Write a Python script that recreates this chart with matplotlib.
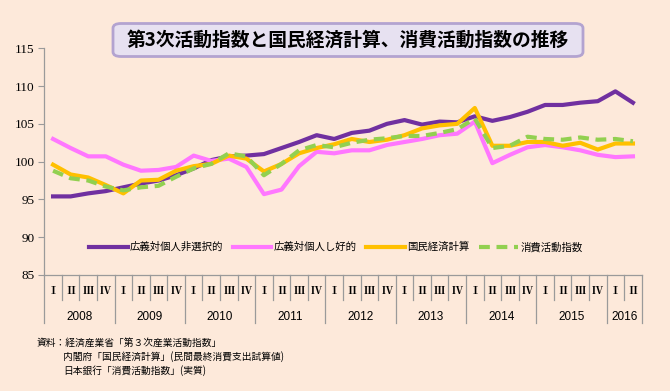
import matplotlib.pyplot as plt
import matplotlib.transforms as mtransforms
from matplotlib.patches import FancyBboxPatch

plt.rcParams['font.family'] = ['Noto Sans CJK JP', 'DejaVu Sans']

years = ['2008', '2009', '2010', '2011', '2012', '2013', '2014', '2015', '2016']
quarters = ['Ⅰ', 'Ⅱ', 'Ⅲ', 'Ⅳ']
n_quarters = 34  # 2008 I - 2016 II

non_selective = [95.4, 95.4, 95.8, 96.1, 96.6, 97.1, 97.5, 98.2, 99.1, 100.2,
                 100.7, 100.8, 101.0, 101.8, 102.6, 103.5, 103.0, 103.8, 104.1, 105.0,
                 105.5, 104.9, 105.3, 105.2, 106.0, 105.4, 105.9, 106.6, 107.5, 107.5,
                 107.8, 108.0, 109.3, 107.8]
preference = [103.0, 101.8, 100.7, 100.7, 99.6, 98.8, 98.9, 99.3, 100.8, 100.1,
              100.4, 99.3, 95.7, 96.3, 99.4, 101.3, 101.1, 101.5, 101.5, 102.2,
              102.6, 103.0, 103.5, 103.7, 105.3, 99.8, 100.9, 101.9, 102.2, 101.9,
              101.5, 100.9, 100.6, 100.7]
sna = [99.6, 98.3, 97.9, 96.9, 95.8, 97.5, 97.6, 98.8, 99.4, 99.7,
       100.8, 100.4, 98.7, 99.7, 101.1, 101.8, 102.3, 103.0, 102.6, 102.9,
       103.5, 104.4, 104.8, 105.0, 107.1, 102.1, 102.1, 102.6, 102.6, 102.1,
       102.5, 101.6, 102.4, 102.4]
consumption = [98.8, 97.8, 97.5, 96.7, 96.2, 96.6, 96.8, 98.0, 99.1, 99.7,
               101.1, 100.7, 98.2, 99.7, 101.5, 102.2, 101.9, 102.5, 102.9, 103.1,
               103.4, 103.4, 103.8, 104.3, 105.7, 101.8, 102.1, 103.3, 103.0, 102.9,
               103.2, 102.9, 103.0, 102.7]

bg = '#fde9da'
grey = '#9a9a9a'

fig = plt.figure(figsize=(6.7, 3.91), dpi=100, facecolor=bg)
ax = fig.add_axes([0.0661, 0.2967, 0.8917, 0.5798], facecolor=bg)

x = list(range(n_quarters))
ax.plot(x, non_selective, color='#7030a0', lw=3.0, label='広義対個人非選択的')
ax.plot(x, preference, color='#ff77ff', lw=3.0, label='広義対個人し好的')
ax.plot(x, sna, color='#ffc000', lw=3.0, label='国民経済計算')
ax.plot(x, consumption, color='#92d050', lw=3.0, dashes=(2.6, 1.6), label='消費活動指数')

ax.set_xlim(-0.5, n_quarters - 0.5)
ax.set_ylim(85, 115)
ax.set_yticks(range(85, 116, 5))
ax.tick_params(axis='y', direction='out', length=4, color=grey, pad=3, labelsize=9.5)
for lab in ax.get_yticklabels():
    lab.set_family('Liberation Serif')
ax.set_xticks([])
for side in ['top', 'right']:
    ax.spines[side].set_visible(False)
for side in ['left', 'bottom']:
    ax.spines[side].set_color(grey)
    ax.spines[side].set_linewidth(0.9)

# category axis below the plot
trans = mtransforms.blended_transform_factory(ax.transData, ax.transAxes)
for i in range(n_quarters):
    ax.text(i, -0.069, quarters[i % 4], transform=trans, ha='center', va='center',
            fontsize=8, fontweight='bold', family=['Noto Serif CJK JP', 'Noto Sans CJK JP'])
for b in range(n_quarters + 1):
    xb = b - 0.5
    low = -0.212 if b % 4 == 0 or b == n_quarters else -0.11
    ax.plot([xb, xb], [0, low], transform=trans, color=grey, lw=0.9, clip_on=False)
for k, yr in enumerate(years):
    start = k * 4
    end = min(start + 4, n_quarters)
    ax.text((start + end - 1) / 2, -0.184, yr, transform=trans, ha='center', va='center',
            fontsize=8.5, family=['Liberation Sans', 'DejaVu Sans'])

ax.legend(loc='center', bbox_to_anchor=(0.488, 0.1235), ncol=4, frameon=False,
          fontsize=7.5, handlelength=3.7, handletextpad=0.25, columnspacing=0.9)

# title box
box = FancyBboxPatch((113 / 670, 1 - 56.5 / 391), (583 - 113) / 670, (56.5 - 23.5) / 391,
                     boxstyle='round,pad=0,rounding_size=0.012', transform=fig.transFigure,
                     facecolor='#e7e1f1', edgecolor='#b3a3d0', lw=2.0)
fig.patches.append(box)
fig.text(348 / 670, 1 - 40 / 391, '第3次活動指数と国民経済計算、消費活動指数の推移',
         ha='center', va='center', fontsize=13.5, fontweight='bold')

notes = ['資料：経済産業省「第３次産業活動指数」',
         '内閣府「国民経済計算」(民間最終消費支出試算値)',
         '日本銀行「消費活動指数」(実質)']
fig.text(37 / 670, 1 - 343 / 391, notes[0], ha='left', va='center', fontsize=7)
fig.text(63 / 670, 1 - 357 / 391, notes[1], ha='left', va='center', fontsize=7)
fig.text(63 / 670, 1 - 371 / 391, notes[2], ha='left', va='center', fontsize=7)

fig.savefig('out.png', dpi=100, facecolor=bg)
